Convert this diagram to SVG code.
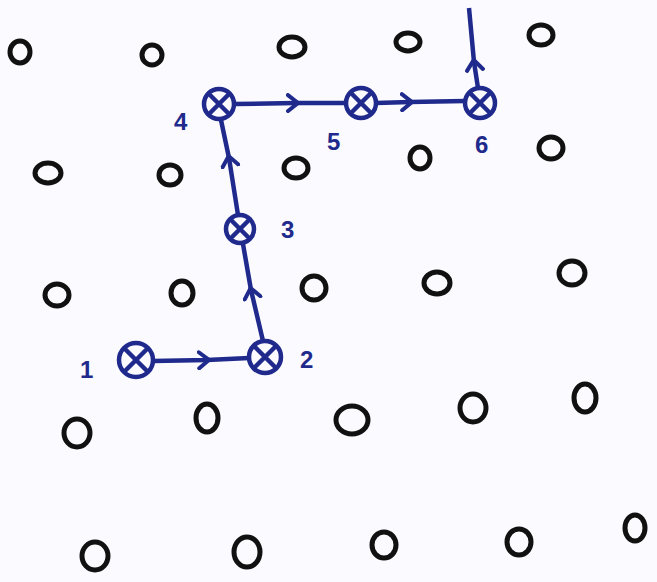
<svg xmlns="http://www.w3.org/2000/svg" width="657" height="582" viewBox="0 0 657 582">
<defs>
<style>
.o{fill:none;stroke:#111;stroke-width:5}
.b{fill:none;stroke:#1f2a8c;stroke-width:4.5;stroke-linecap:round}
.e{fill:none;stroke:#1f2a8c;stroke-width:4.5;marker-mid:url(#ah)}
.t{font-family:"Liberation Sans",sans-serif;font-size:24px;fill:#1f2a8c;font-weight:bold}
</style>
<marker id="ah" markerWidth="20" markerHeight="20" refX="10" refY="10" orient="auto" markerUnits="userSpaceOnUse">
<path d="M2 2 L12 10 L2 18" fill="none" stroke="#1f2a8c" stroke-width="4" stroke-linecap="round"/>
</marker>
</defs>
<rect width="657" height="582" fill="#fafaff"/>
<g id="grid">
<ellipse class="o" cx="20" cy="52" rx="10" ry="11"/>
<ellipse class="o" cx="152" cy="55" rx="10" ry="10"/>
<ellipse class="o" cx="292" cy="47" rx="13" ry="10"/>
<ellipse class="o" cx="408" cy="42" rx="12" ry="9"/>
<ellipse class="o" cx="541" cy="35" rx="12" ry="10"/>
<ellipse class="o" cx="48" cy="173" rx="13" ry="10"/>
<ellipse class="o" cx="170" cy="175" rx="11" ry="10"/>
<ellipse class="o" cx="296" cy="168" rx="12" ry="10"/>
<ellipse class="o" cx="420" cy="158" rx="10" ry="11"/>
<ellipse class="o" cx="551" cy="148" rx="12" ry="11"/>
<ellipse class="o" cx="57" cy="295" rx="12" ry="11"/>
<ellipse class="o" cx="182" cy="293" rx="11" ry="12"/>
<ellipse class="o" cx="314" cy="288" rx="12" ry="12"/>
<ellipse class="o" cx="437" cy="283" rx="13" ry="11"/>
<ellipse class="o" cx="572" cy="273" rx="13" ry="12"/>
<ellipse class="o" cx="77" cy="433" rx="13" ry="14"/>
<ellipse class="o" cx="207" cy="418" rx="11" ry="14"/>
<ellipse class="o" cx="352" cy="420" rx="16" ry="14"/>
<ellipse class="o" cx="473" cy="408" rx="13" ry="14"/>
<ellipse class="o" cx="585" cy="398" rx="11" ry="14"/>
<ellipse class="o" cx="95" cy="556" rx="13" ry="14"/>
<ellipse class="o" cx="247" cy="552" rx="13" ry="15"/>
<ellipse class="o" cx="384" cy="545" rx="12" ry="13"/>
<ellipse class="o" cx="519" cy="542" rx="12" ry="13"/>
<ellipse class="o" cx="635" cy="528" rx="10" ry="13"/>
</g>
<g id="connectors">
<path class="e" d="M153 361 L207 360 L249 358"/>
<path class="e" d="M263 341 L251 290 L243 244"/>
<path class="e" d="M238 215 L229 158 L221 120"/>
<path class="e" d="M234 104 L296 103 L346 103"/>
<path class="e" d="M376 103 L410 102 L465 101"/>
<path class="e" d="M478 88 L474 62 L469 8"/>
</g>
<g id="n1"><circle class="b" cx="136" cy="360" r="17"/><path class="b" d="M125 349 L147 371 M147 349 L125 371"/><text class="t" x="80" y="378">1</text></g>
<g id="n2"><circle class="b" cx="265" cy="357" r="16"/><path class="b" d="M256 348 L274 366 M274 348 L256 366"/><text class="t" x="300" y="368">2</text></g>
<g id="n3"><circle class="b" cx="240" cy="229" r="14"/><path class="b" d="M232 221 L248 237 M248 221 L232 237"/><text class="t" x="281" y="238">3</text></g>
<g id="n4"><circle class="b" cx="219" cy="104" r="15"/><path class="b" d="M210 95 L228 113 M228 95 L210 113"/><text class="t" x="174" y="130">4</text></g>
<g id="n5"><circle class="b" cx="361" cy="103" r="15"/><path class="b" d="M352 94 L370 112 M370 94 L352 112"/><text class="t" x="327" y="150">5</text></g>
<g id="n6"><circle class="b" cx="480" cy="103" r="15"/><path class="b" d="M471 94 L489 112 M489 94 L471 112"/><text class="t" x="475" y="153">6</text></g>
</svg>
